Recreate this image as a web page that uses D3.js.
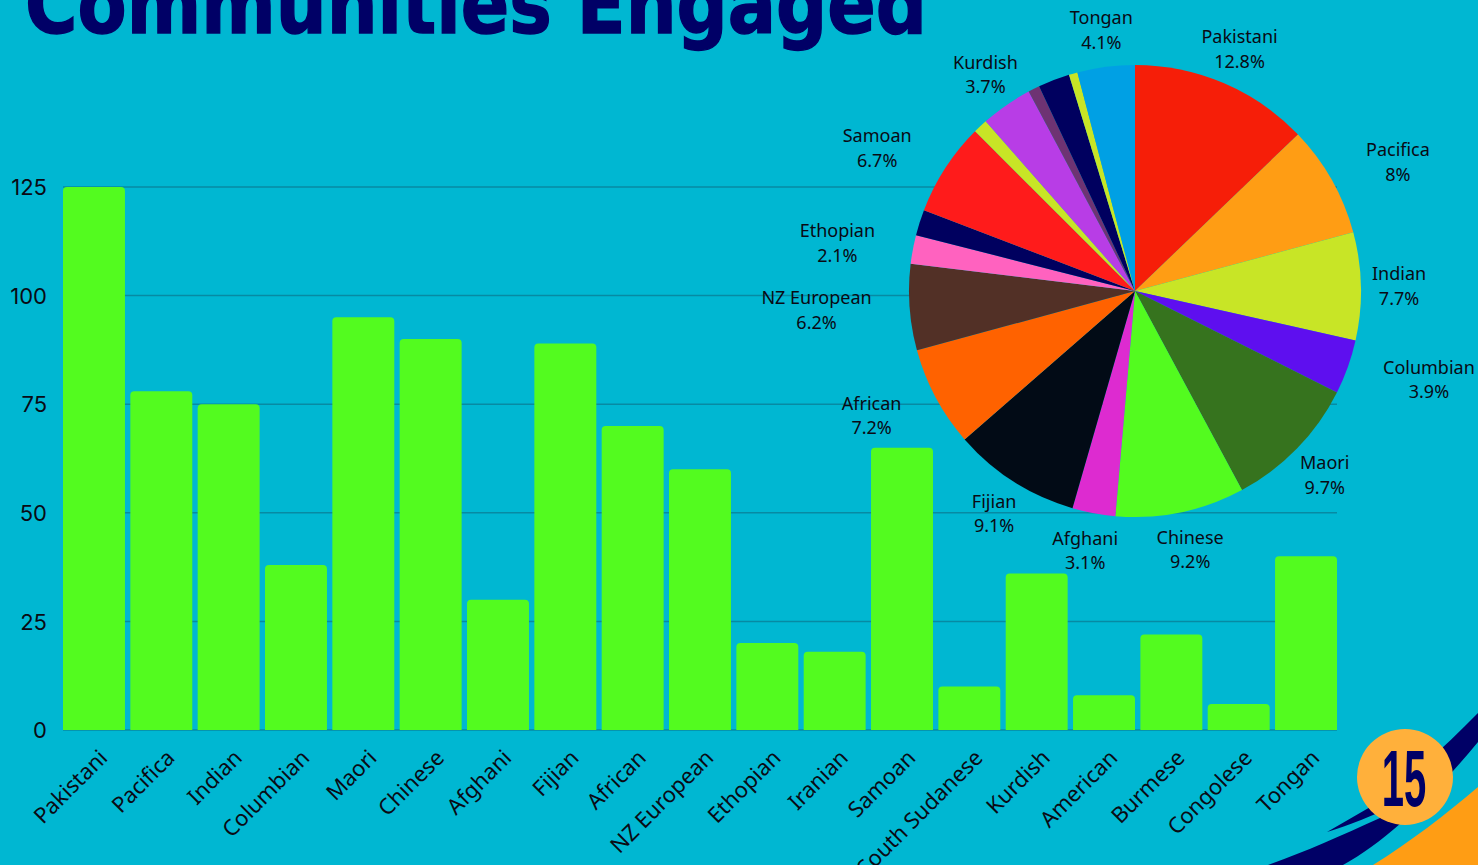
<!DOCTYPE html>
<html>
<head>
<meta charset="utf-8">
<style>
  html, body { margin: 0; padding: 0; background: #00b7d2; overflow: hidden; }
  svg { display: block; }
  text { font-family: "Noto Sans", sans-serif; fill: #0a0a14; }
</style>
<script src="https://cdn.jsdelivr.net/npm/d3@7/dist/d3.min.js"></script>
</head>
<body>
<svg id="chart" width="1478" height="865"></svg>
<script>
const communities = ["Pakistani", "Pacifica", "Indian", "Columbian", "Maori", "Chinese", "Afghani", "Fijian", "African", "NZ European", "Ethopian", "Iranian", "Samoan", "South Sudanese", "Kurdish", "American", "Burmese", "Congolese", "Tongan"];
const engaged = [125, 78, 75, 38, 95, 90, 30, 89, 70, 60, 20, 18, 65, 10, 36, 8, 22, 6, 40];
const yTicks = [0, 25, 50, 75, 100, 125];
const hiddenPieLabels = ["Iranian", "South Sudanese", "American", "Burmese", "Congolese"];
const sliceColours = ["#f61e08", "#ff9d14", "#c8e526", "#5e0fef", "#36731e", "#53fb1f", "#dd2bd0", "#020b16", "#ff6200", "#523026", "#ff62bf", "#00005f", "#ff1b1b", "#c8e526", "#b83de6", "#6e3373", "#00005f", "#c8e526", "#00a0e4"];

const svg = d3.select("#chart");
const navy = "#000066";

// Decorative sweeps in the lower right corner, behind the badge
svg.append("path").attr("fill", navy)
  .attr("d", "M1478,713 C1440,752 1405,782 1372,806 L1327,832 C1350,825 1375,815 1392,806 L1380,818 C1340,836 1305,852 1268,865 L1343,865 C1385,842 1430,800 1478,742 Z");
svg.append("path").attr("fill", "#ff9d14")
  .attr("d", "M1373,865 C1410,842 1445,815 1478,787 L1478,865 Z");

// Title, running off the top edge
svg.append("text").attr("x", 25).attr("y", 33)
  .attr("font-size", 82).attr("font-weight", 700)
  .style("font-family", "'DejaVu Sans', sans-serif").style("fill", navy)
  .style("stroke", navy).style("stroke-width", 1.5)
  .attr("textLength", 902).attr("lengthAdjust", "spacingAndGlyphs")
  .text("Communities Engaged");

// Bar chart
const x = d3.scaleBand().domain(communities).range([63, 1337]).paddingInner(0.08).paddingOuter(0);
const y = d3.scaleLinear().domain([0, 125]).range([730, 187]);

svg.append("g").selectAll("line").data(yTicks).join("line")
  .attr("x1", 63).attr("x2", 1337)
  .attr("y1", d => y(d)).attr("y2", d => y(d))
  .attr("stroke", "#078aa3").attr("stroke-width", 1.5);

const yAxis = svg.append("g").attr("transform", "translate(47,0)")
  .call(d3.axisLeft(y).tickValues(yTicks).tickSize(0).tickPadding(0));
yAxis.select(".domain").remove();
yAxis.selectAll("text").attr("font-size", 22).attr("dy", "0.35em")
  .style("font-family", "Inter, sans-serif");

svg.append("g").selectAll("path").data(communities).join("path")
  .attr("fill", "#53fb1f")
  .attr("d", (c, i) => {
    const l = x(c), r = l + x.bandwidth(), t = y(engaged[i]), b = y(0), k = 4;
    return `M${l},${b}V${t + k}Q${l},${t} ${l + k},${t}H${r - k}Q${r},${t} ${r},${t + k}V${b}Z`;
  });

const xAxis = svg.append("g").attr("transform", "translate(0,730)")
  .call(d3.axisBottom(x).tickSize(0).tickPadding(0));
xAxis.select(".domain").remove();
xAxis.selectAll("text")
  .attr("font-size", 22).attr("text-anchor", "end").attr("dy", 0).attr("y", 0).attr("x", 0)
  .attr("transform", d => `translate(${x.bandwidth() * 0.22 - 3},${25}) rotate(-45)`)
  .attr("dominant-baseline", "middle");

// Pie chart with outside labels
const cx = 1135, cy = 291, radius = 226, labelRadius = 240;
const total = d3.sum(engaged);
const pie = d3.pie().sort(null).value(d => d);
const arc = d3.arc().innerRadius(0).outerRadius(radius);
const arcs = pie(engaged);
const pieGroup = svg.append("g").attr("transform", `translate(${cx},${cy})`);

pieGroup.selectAll("path").data(arcs).join("path")
  .attr("d", arc).attr("fill", (d, i) => sliceColours[i]);

const pct = v => `${+(v / total * 100).toFixed(1)}%`;
arcs.forEach((a, i) => {
  const name = communities[i];
  if (hiddenPieLabels.includes(name)) return;
  const mid = (a.startAngle + a.endAngle) / 2;
  const s = Math.sin(mid), c = Math.cos(mid);
  const label = pieGroup.append("text").attr("text-anchor", "middle").attr("font-size", 18);
  label.append("tspan").attr("x", 0).attr("y", -5).text(name);
  label.append("tspan").attr("x", 0).attr("y", 19.5).text(pct(engaged[i]));
  const half = label.node().getBBox().width / 2;
  // Side labels sit clear of the rim; upper and lower ones slide along the tangent
  const side = Math.abs(s) > 0.8;
  const gap = name === "Indian" ? -3 : Math.abs(c) < 0.3 ? 24 : 22;
  const slide = c > 0 ? 0.7 : 1;
  const dx = side ? Math.sign(s) * (half + gap) : s * half * slide;
  const px = labelRadius * s + dx;
  const py = -labelRadius * c - c * 24 + (c < 0 ? -1 : 0);
  label.attr("transform", `translate(${px},${py})`);
});

// Numbered badge
svg.append("circle").attr("cx", 1405).attr("cy", 777).attr("r", 48).attr("fill", "#ffb03b");
svg.append("text")
  .attr("transform", "translate(1404,806) scale(0.5,1)")
  .attr("text-anchor", "middle").attr("font-size", 80).attr("font-weight", 700)
  .style("font-family", "'Liberation Sans', sans-serif").style("fill", navy)
  .text("15");
</script>
</body>
</html>
